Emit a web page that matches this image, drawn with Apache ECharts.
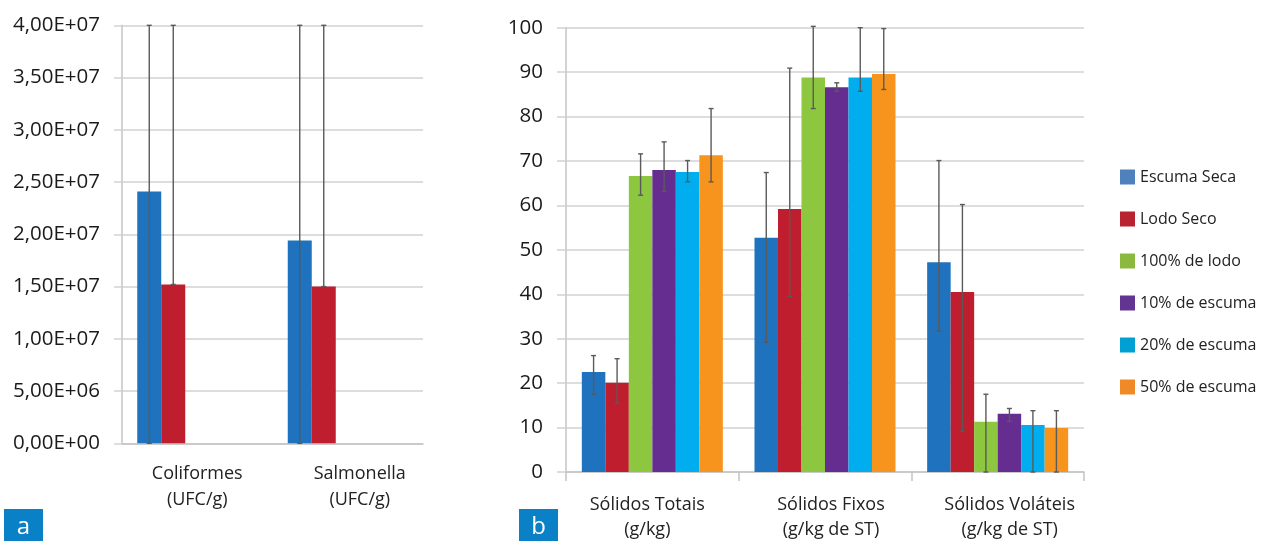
<!DOCTYPE html>
<html>
<head>
<meta charset="utf-8">
<script src="https://cdn.jsdelivr.net/npm/echarts@6/dist/echarts.min.js"></script>
<style>
  html, body { margin: 0; padding: 0; background: #ffffff; }
  #chart { width: 1269px; height: 541px; }
</style>
</head>
<body>
<div id="chart"></div>
<script>
// ---- Panel a: microbiology (UFC/g) ----
const microCategories = ['Coliformes\n(UFC/g)', 'Salmonella\n(UFC/g)'];
const microEscuma = [2.41e7, 1.94e7];
const microEscumaLow = [0, 0];
const microEscumaHigh = [4.0e7, 4.0e7];
const microLodo = [1.52e7, 1.50e7];
const microLodoLow = [1.52e7, 1.50e7];
const microLodoHigh = [4.0e7, 4.0e7];
const microTicks = { min: 0, max: 4.0e7, interval: 5.0e6 };

// ---- Panel b: solids ----
const solidsCategories = ['Sólidos Totais\n(g/kg)', 'Sólidos Fixos\n(g/kg de ST)', 'Sólidos Voláteis\n(g/kg de ST)'];
const seriesNames = ['Escuma Seca', 'Lodo Seco', '100% de lodo', '10% de escuma', '20% de escuma', '50% de escuma'];
const escumaSeca = [22.5, 52.7, 47.2];
const escumaSecaLow = [17.5, 29.2, 31.7];
const escumaSecaHigh = [26.2, 67.4, 70.1];
const lodoSeco = [20.1, 59.2, 40.5];
const lodoSecoLow = [15.5, 39.5, 9.2];
const lodoSecoHigh = [25.5, 90.9, 60.2];
const lodo100 = [66.6, 88.8, 11.3];
const lodo100Low = [62.3, 81.8, 0];
const lodo100High = [71.6, 100.3, 17.5];
const escuma10 = [68.0, 86.6, 13.1];
const escuma10Low = [63.2, 85.7, 11.4];
const escuma10High = [74.3, 87.6, 14.3];
const escuma20 = [67.5, 88.8, 10.6];
const escuma20Low = [65.3, 85.7, 0];
const escuma20High = [70.1, 100.0, 13.8];
const escuma50 = [71.3, 89.6, 9.9];
const escuma50Low = [65.3, 86.1, 0];
const escuma50High = [81.8, 99.8, 13.8];
const solidsTicks = { min: 0, max: 100, interval: 10 };

const barColors = ['#1f72bd', '#be1e2d', '#8dc63f', '#662d91', '#00aeef', '#f7941d'];
const legendColors = ['#4f81bd', '#b8232f', '#8bb83f', '#633592', '#00a0d2', '#ef8a26'];

const FONT = 'Open Sans';
const GRID_COLOR = '#d2d2d2';
const AXIS_COLOR = '#c4c4c4';
const ERR_COLOR = '#5a5a5a';

const solidsValues = [escumaSeca, lodoSeco, lodo100, escuma10, escuma20, escuma50];
const solidsLows = [escumaSecaLow, lodoSecoLow, lodo100Low, escuma10Low, escuma20Low, escuma50Low];
const solidsHighs = [escumaSecaHigh, lodoSecoHigh, lodo100High, escuma10High, escuma20High, escuma50High];

function sciLabel(v) {
  if (v === 0) return '0,00E+00';
  const exp = Math.floor(Math.log10(Math.abs(v)));
  const mant = (v / Math.pow(10, exp)).toFixed(2).replace('.', ',');
  const e = (exp < 0 ? '-' : '+') + String(Math.abs(exp)).padStart(2, '0');
  return mant + 'E' + e;
}

// Category labels nudged sideways by a few pixels each (rich padding on centred text)
function nudgedLabels(shifts, fontSize, lineHeight) {
  const rich = {};
  shifts.forEach((s, i) => {
    rich['c' + i] = {
      fontFamily: FONT, fontSize: fontSize, lineHeight: lineHeight, color: '#222',
      padding: s >= 0 ? [0, 0, 0, 2 * s] : [0, -2 * s, 0, 0]
    };
  });
  return {
    rich: rich,
    formatter: function (value, index) {
      return value.split('\n').map(line => '{c' + index + '|' + line + '}').join('\n');
    }
  };
}

// Error bar drawn at the position of bar slot `slot` out of `slotCount` slots of width `barW`
function errorBars(slotCount, slot, barW) {
  return function (params, api) {
    const cat = api.value(0);
    const pLo = api.coord([cat, api.value(1)]);
    const pHi = api.coord([cat, api.value(2)]);
    const x = pLo[0] + (slot - (slotCount - 1) / 2) * barW;
    const cap = 2.5;
    const style = { stroke: ERR_COLOR, lineWidth: 1.4 };
    return {
      type: 'group',
      children: [
        { type: 'line', shape: { x1: x, y1: pLo[1], x2: x, y2: pHi[1] }, style },
        { type: 'line', shape: { x1: x - cap, y1: pHi[1], x2: x + cap, y2: pHi[1] }, style },
        { type: 'line', shape: { x1: x - cap, y1: pLo[1], x2: x + cap, y2: pLo[1] }, style }
      ]
    };
  };
}

function errData(lows, highs) {
  return lows.map((lo, i) => [i, lo, highs[i]]);
}

const MICRO_SLOTS = 5;
const MICRO_BAR_W = 24;
const SOLIDS_SLOTS = 6;
const SOLIDS_BAR_W = 23.5;

const series = [];

// panel a bars (Escuma Seca, Lodo Seco, then empty slots for the mixtures)
[microEscuma, microLodo].forEach((vals, i) => {
  series.push({
    name: seriesNames[i], type: 'bar', xAxisIndex: 0, yAxisIndex: 0,
    data: vals, barWidth: MICRO_BAR_W, barGap: '0%',
    itemStyle: { color: barColors[i] }, z: 2, silent: true
  });
});
for (let k = 2; k < MICRO_SLOTS; k++) {
  series.push({
    name: '_slot' + k, type: 'bar', xAxisIndex: 0, yAxisIndex: 0,
    data: [], barWidth: MICRO_BAR_W, barGap: '0%'
  });
}
series.push({
  type: 'custom', xAxisIndex: 0, yAxisIndex: 0, z: 5, silent: true,
  renderItem: errorBars(MICRO_SLOTS, 0, MICRO_BAR_W),
  data: errData(microEscumaLow, microEscumaHigh)
});
series.push({
  type: 'custom', xAxisIndex: 0, yAxisIndex: 0, z: 5, silent: true,
  renderItem: errorBars(MICRO_SLOTS, 1, MICRO_BAR_W),
  data: errData(microLodoLow, microLodoHigh)
});

// panel b bars and error bars
solidsValues.forEach((vals, i) => {
  series.push({
    name: seriesNames[i], type: 'bar', xAxisIndex: 1, yAxisIndex: 1,
    data: vals, barWidth: SOLIDS_BAR_W, barGap: '0%',
    itemStyle: { color: barColors[i] }, z: 2, silent: true
  });
});
solidsValues.forEach((vals, i) => {
  series.push({
    type: 'custom', xAxisIndex: 1, yAxisIndex: 1, z: 5, silent: true,
    renderItem: errorBars(SOLIDS_SLOTS, i, SOLIDS_BAR_W),
    data: errData(solidsLows[i], solidsHighs[i])
  });
});

const yLabelStyle = { fontFamily: FONT, fontSize: 20.5, color: '#1a1a1a' };

const option = {
  animation: false,
  backgroundColor: '#ffffff',
  legend: {
    orient: 'vertical', left: 1115, top: 164,
    itemWidth: 15, itemHeight: 15, itemGap: 26, icon: 'rect',
    selectedMode: false,
    textStyle: { fontFamily: FONT, fontSize: 16, color: '#222', lineHeight: 16 },
    data: seriesNames.map((n, i) => ({ name: n, itemStyle: { color: legendColors[i] } }))
  },
  grid: [
    { left: 122, top: 25.3, width: 301, height: 418 },
    { left: 566, top: 27.7, width: 518, height: 444.3 }
  ],
  xAxis: [
    {
      type: 'category', gridIndex: 0, data: microCategories,
      axisLine: { lineStyle: { color: AXIS_COLOR, width: 1.5 } },
      axisTick: { show: false },
      axisLabel: Object.assign({ margin: 18, interval: 0 }, nudgedLabels([0, 12], 18, 26))
    },
    {
      type: 'category', gridIndex: 1, data: solidsCategories,
      axisLine: { lineStyle: { color: AXIS_COLOR, width: 1.5 } },
      axisTick: { show: true, length: 9, interval: 0, lineStyle: { color: AXIS_COLOR, width: 1.5 } },
      axisLabel: Object.assign({ margin: 20, interval: 0 }, nudgedLabels([-5, 6, 12], 18, 25))
    }
  ],
  yAxis: [
    {
      type: 'value', gridIndex: 0,
      min: microTicks.min, max: microTicks.max, interval: microTicks.interval,
      axisLine: { show: true, lineStyle: { color: AXIS_COLOR, width: 1.5 } },
      axisTick: { show: true, length: 8, lineStyle: { color: GRID_COLOR, width: 1.5 } },
      splitLine: { lineStyle: { color: GRID_COLOR, width: 1.5 } },
      axisLabel: Object.assign({ margin: 22, formatter: sciLabel }, yLabelStyle)
    },
    {
      type: 'value', gridIndex: 1,
      min: solidsTicks.min, max: solidsTicks.max, interval: solidsTicks.interval,
      axisLine: { show: true, lineStyle: { color: AXIS_COLOR, width: 1.5 } },
      axisTick: { show: true, length: 9, lineStyle: { color: GRID_COLOR, width: 1.5 } },
      splitLine: { lineStyle: { color: GRID_COLOR, width: 1.5 } },
      axisLabel: Object.assign({ margin: 23 }, yLabelStyle)
    }
  ],
  graphic: [
    { type: 'rect', left: 4, top: 509, shape: { width: 39, height: 32 }, style: { fill: '#0a80c6' } },
    { type: 'text', x: 23.5, y: 527, style: { text: 'a', fill: '#ffffff', font: '24px "Open Sans"', align: 'center', verticalAlign: 'middle' } },
    { type: 'rect', left: 519, top: 509, shape: { width: 39, height: 32 }, style: { fill: '#0a80c6' } },
    { type: 'text', x: 538.5, y: 527, style: { text: 'b', fill: '#ffffff', font: '24px "Open Sans"', align: 'center', verticalAlign: 'middle' } }
  ],
  series: series
};

const chart = echarts.init(document.getElementById('chart'), null, { renderer: 'canvas' });
chart.setOption(option);
</script>
</body>
</html>
